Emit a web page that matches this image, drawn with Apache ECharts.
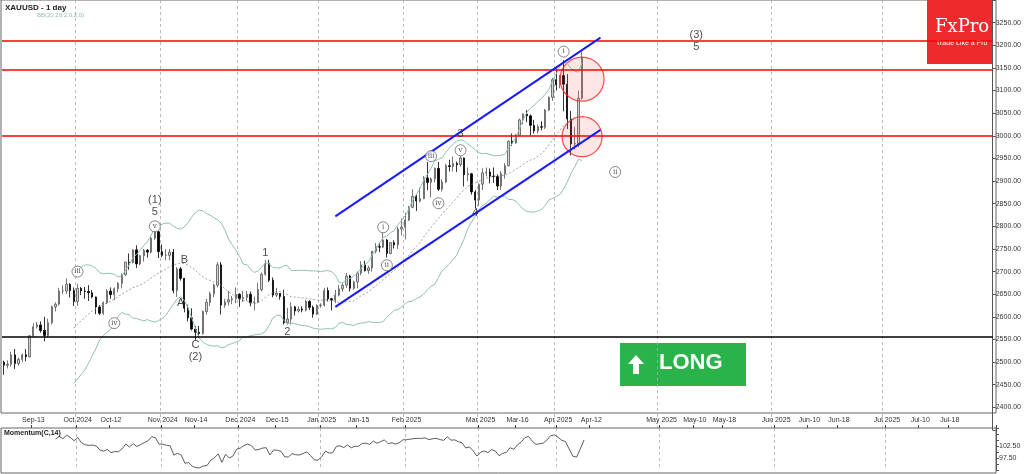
<!DOCTYPE html>
<html><head><meta charset="utf-8">
<script src="https://cdn.jsdelivr.net/npm/echarts@6/dist/echarts.min.js"></script>
<style>html,body{margin:0;padding:0;background:#fff}#c{width:1024px;height:474px}</style>
</head><body><div id="c"></div>
<script>
// [open, close, low, high]
const sep24=[[2500,2493,2472,2503],[2493,2495,2486,2504],[2495,2516,2490,2523],[2516,2497,2485,2529],[2497,2506,2492,2510],[2506,2516,2500,2519],[2516,2512,2502,2529],[2512,2558,2510,2560],[2558,2578,2556,2586],[2578,2582,2574,2589],[2582,2570,2565,2590],[2570,2559,2546,2600],[2559,2587,2555,2596],[2587,2622,2583,2625],[2622,2628,2612,2632],[2628,2657,2625,2664],[2657,2657,2650,2670],[2657,2672,2650,2685],[2672,2658,2643,2674],[2658,2634,2624,2665]];
const oct24=[[2634,2663,2624,2673],[2663,2657,2648,2666],[2657,2656,2640,2666],[2656,2653,2635,2670],[2653,2644,2641,2659],[2644,2622,2606,2645],[2622,2608,2604,2626],[2608,2631,2604,2634],[2631,2657,2628,2661],[2657,2649,2640,2665],[2649,2662,2637,2665],[2662,2674,2654,2677],[2674,2693,2663,2696],[2693,2721,2690,2722],[2721,2720,2704,2740],[2720,2748,2718,2749],[2748,2717,2708,2758],[2717,2735,2714,2737],[2735,2747,2722,2750],[2747,2743,2731,2750],[2743,2774,2740,2775],[2774,2788,2770,2790],[2788,2744,2730,2790]];
const nov24=[[2744,2736,2732,2760],[2736,2736,2725,2750],[2736,2743,2725,2750],[2743,2658,2652,2750],[2658,2706,2644,2710],[2706,2685,2680,2710],[2685,2619,2610,2686],[2619,2598,2590,2627],[2598,2573,2570,2619],[2573,2566,2548,2580],[2566,2563,2555,2580],[2563,2612,2561,2614],[2612,2632,2605,2640],[2632,2651,2624,2656],[2651,2670,2643,2673],[2670,2715,2665,2721],[2715,2626,2605,2721],[2626,2633,2620,2640],[2633,2638,2625,2657],[2638,2640,2628,2646],[2640,2650,2630,2665]];
const dec24=[[2650,2640,2622,2652],[2640,2643,2632,2657],[2643,2650,2636,2657],[2650,2631,2623,2656],[2631,2633,2614,2645],[2633,2660,2630,2675],[2660,2694,2656,2698],[2694,2718,2691,2726],[2718,2681,2677,2726],[2681,2648,2643,2687],[2648,2652,2644,2664],[2652,2645,2638,2652],[2645,2587,2583,2660],[2587,2595,2583,2620],[2595,2622,2583,2632],[2622,2613,2603,2624],[2613,2617,2610,2623],[2617,2615,2610,2623],[2615,2634,2612,2638],[2634,2621,2615,2637],[2621,2606,2598,2625],[2606,2625,2604,2628]];
const jan25=[[2625,2626,2620,2630],[2626,2658,2623,2664],[2658,2640,2634,2665],[2640,2637,2614,2642],[2637,2648,2630,2660],[2648,2662,2645,2670],[2662,2670,2655,2675],[2670,2690,2664,2697],[2690,2663,2656,2693],[2663,2677,2660,2680],[2677,2697,2663,2700],[2697,2715,2692,2723],[2715,2702,2700,2724],[2702,2708,2695,2713],[2708,2745,2700,2746],[2745,2755,2740,2763],[2755,2754,2743,2763],[2754,2770,2752,2786],[2770,2740,2731,2772],[2740,2764,2738,2765],[2764,2759,2751,2769],[2759,2794,2750,2799],[2794,2798,2780,2817]];
const feb25=[[2798,2814,2771,2830],[2814,2842,2812,2845],[2842,2866,2840,2882],[2866,2856,2834,2870],[2856,2861,2853,2886],[2861,2907,2860,2911],[2907,2897,2880,2942],[2897,2905,2864,2908],[2905,2928,2897,2930],[2928,2882,2878,2942],[2882,2898,2877,2904],[2898,2934,2895,2938],[2934,2932,2921,2947],[2932,2939,2921,2954],[2939,2936,2920,2943],[2936,2951,2932,2956],[2951,2914,2888,2952],[2914,2916,2900,2930],[2916,2876,2870,2918],[2876,2858,2840,2880]];
const mar25=[[2858,2893,2845,2895],[2893,2918,2880,2928],[2918,2920,2910,2930],[2920,2911,2895,2928],[2911,2910,2896,2930],[2910,2889,2880,2915],[2889,2916,2880,2922],[2916,2934,2905,2940],[2934,2988,2932,2990],[2988,2984,2978,3005],[2984,3001,2983,3004],[3001,3035,2999,3038],[3035,3048,3025,3050],[3048,3044,3030,3057],[3044,3023,3000,3047],[3023,3011,3005,3035],[3011,3020,3005,3025],[3020,3019,3012,3032],[3019,3057,3015,3059],[3057,3085,3055,3087],[3085,3124,3077,3128]];
const apr25=[[3124,3113,3100,3149],[3113,3133,3105,3135],[3133,3114,3054,3167],[3114,3037,3015,3136],[3037,2982,2957,3055],[2982,2983,2970,3020],[2983,3083,2975,3100],[3083,3173,3080,3185]];
const priceTicks=[2400,2450,2500,2550,2600,2650,2700,2750,2800,2850,2900,2950,3000,3050,3100,3150,3200,3250];
const redLevels=[3210,3146,3000];
const blackLevel=2556;
const tickLabels={'2024-09-13':'Sep-13','2024-10-01':'Oct 2024','2024-10-14':'Oct-12','2024-11-01':'Nov 2024','2024-11-14':'Nov-14','2024-12-02':'Dec 2024','2024-12-16':'Dec-15','2025-01-01':'Jan 2025','2025-01-15':'Jan-15','2025-02-03':'Feb 2025','2025-03-03':'Mar 2025','2025-03-17':'Mar-16','2025-04-01':'Apr 2025','2025-04-12':'Apr-12','2025-05-01':'May 2025','2025-05-10':'May-10','2025-05-18':'May-18','2025-06-01':'Jun 2025','2025-06-10':'Jun-10','2025-06-18':'Jun-18','2025-07-01':'Jul 2025','2025-07-10':'Jul-10','2025-07-18':'Jul-18'};
const monthStarts=['2024-10-01','2024-11-01','2024-12-02','2025-01-01','2025-02-03','2025-03-03','2025-04-01','2025-05-01','2025-06-01','2025-07-01'];
// [date, price, text, circled]
const waveLabels=[['2024-10-30',2845,'(1)\n5',0],['2024-10-30',2800,'v',1],['2024-10-01',2700,'iii',1],['2024-10-15',2586,'iv',1],['2024-11-11',2725,'B',0],['2024-11-08',2630,'A',0],['2024-11-14',2525,'C\n(2)',0],['2024-12-11',2742,'1',0],['2024-12-19',2566,'2',0],['2025-01-24',2798,'i',1],['2025-01-27',2714,'ii',1],['2025-02-12',2955,'iii',1],['2025-02-14',2851,'iv',1],['2025-02-24',2968,'v',1],['2025-02-24',3005,'3',0],['2025-02-28',2830,'4',0],['2025-04-03',3186,'i',1],['2025-04-19',2920,'ii',1],['2025-05-11',3210,'(3)\n5',0]];
const channelUpper=[['2025-01-07',2822],['2025-04-15',3217]];
const channelLower=[['2025-01-07',2622],['2025-04-15',3013]];
const zones=[['2025-04-10',3125,44],['2025-04-10',2998,40]];
const lastPrice=3173.06, lastMom=101.27;

const candles=[].concat(sep24,oct24,nov24,dec24,jan25,feb25,mar25,apr25);
const fmt=d=>d.toISOString().slice(0,10);
const dates=[];
let d=new Date(Date.UTC(2024,8,3));
while(dates.length<candles.length){const w=d.getUTCDay(); if(w!==0&&w!==6)dates.push(fmt(d)); d.setUTCDate(d.getUTCDate()+1);}
const endF=new Date(Date.UTC(2025,6,30));
while(d<=endF){dates.push(fmt(d)); d.setUTCDate(d.getUTCDate()+1);}
const closes=candles.map(c=>c[1]);
const mid=[],up=[],lo=[],mom=[];
closes.forEach((c,i)=>{
  if(i>=19){const s=closes.slice(i-19,i+1);const m=s.reduce((a,b)=>a+b,0)/20;const sd=Math.sqrt(s.reduce((a,b)=>a+(b-m)*(b-m),0)/20);mid.push(m);up.push(m+2*sd);lo.push(m-2*sd);}else{mid.push(null);up.push(null);lo.push(null);}
  mom.push(i>=14?c/closes[i-14]*100:null);
});
const monthSet=new Set(monthStarts);
const chart=echarts.init(document.getElementById('c'));
const xBase={type:'category',data:dates,boundaryGap:true,axisLine:{show:false},axisTick:{show:false},
  splitLine:{show:true,interval:(i,v)=>monthSet.has(v),lineStyle:{color:'#aaa',type:[3,3],width:0.8}}};
chart.setOption({
  animation:false,
  grid:[{left:2,right:28,top:-3,height:433},{left:2,right:28,top:428,height:42}],
  xAxis:[Object.assign({},xBase,{gridIndex:0,axisLabel:{show:false}}),
    Object.assign({},xBase,{gridIndex:1,position:'top',axisTick:{show:true,interval:(i,v)=>!!tickLabels[v],length:3,lineStyle:{color:'#444'},inside:false},
      axisLabel:{show:true,interval:(i,v)=>!!tickLabels[v],formatter:v=>tickLabels[v]||'',fontSize:7,color:'#333',margin:4,fontFamily:'Liberation Sans'}})],
  yAxis:[{type:'value',gridIndex:0,position:'right',min:2350,max:3300,interval:50,scale:true,splitLine:{show:false},
      axisLine:{show:true,lineStyle:{color:'#555'}},axisTick:{show:true,length:3},
      axisLabel:{fontSize:7,color:'#333',margin:3,fontFamily:'Liberation Sans',formatter:v=>(v>=2400&&v<=3250)?v.toFixed(2):''}},
    {type:'value',gridIndex:1,position:'right',min:92.5,max:110,interval:2.5,splitLine:{show:false},
      axisLine:{show:true,lineStyle:{color:'#555'}},axisTick:{show:true,length:3},
      axisLabel:{fontSize:7,color:'#333',margin:3,fontFamily:'Liberation Sans',formatter:v=>(v===97.5||v===102.5)?v.toFixed(2):''}}],
  series:[
    {type:'line',data:up,symbol:'none',lineStyle:{color:'#8fbfb8',width:1},silent:true},
    {type:'line',data:lo,symbol:'none',lineStyle:{color:'#8fbfb8',width:1},silent:true},
    {type:'line',data:mid,symbol:'none',lineStyle:{color:'#888',width:0.8,type:[2,2]},silent:true},
    {type:'candlestick',data:candles,barMaxWidth:3,
      itemStyle:{color:'#d4d4d4',borderColor:'#555',color0:'#000',borderColor0:'#000',borderWidth:0.8},
      markLine:{symbol:'none',silent:true,data:[
        ...redLevels.map(v=>({yAxis:v,lineStyle:{color:'#ff0000',width:1.5,type:'solid'},label:{show:false}})),
        {yAxis:blackLevel,lineStyle:{color:'#000',width:1.5,type:'solid'},label:{show:false}},
        {yAxis:lastPrice,lineStyle:{opacity:0},label:{show:true,position:'end',formatter:lastPrice.toFixed(2),fontSize:7,color:'#333',backgroundColor:'#fff',borderColor:'#777',borderWidth:0.5,padding:[1,1],distance:2}},
        [{coord:channelUpper[0],lineStyle:{color:'#1a1aff',width:2,type:'solid'}},{coord:channelUpper[1]}],
        [{coord:channelLower[0],lineStyle:{color:'#1a1aff',width:2,type:'solid'}},{coord:channelLower[1]}]
      ]}},
    {type:'scatter',data:zones.map(z=>({value:[z[0],z[1]],symbolSize:z[2]})),symbol:'circle',silent:true,
      itemStyle:{color:'rgba(255,80,80,0.18)',borderColor:'#ff2020',borderWidth:1.2}},
    {type:'scatter',data:waveLabels.map(w=>({value:[w[0],w[1]],symbolSize:w[3]?11:0,
      label:{show:true,position:'inside',formatter:w[2],fontSize:w[3]?7:11,fontFamily:w[3]?'DejaVu Serif':'Liberation Sans',color:'#222',lineHeight:w[3]?8:12}})),
      symbol:'circle',itemStyle:{color:'#fff',borderColor:'#444',borderWidth:0.8},silent:true,z:5},
    {type:'line',xAxisIndex:1,yAxisIndex:1,data:mom,symbol:'none',lineStyle:{color:'#333',width:0.8},
      markLine:{symbol:'none',silent:true,data:[{yAxis:lastMom,lineStyle:{opacity:0},label:{show:true,position:'end',formatter:lastMom.toFixed(2),fontSize:7,color:'#333',backgroundColor:'#fff',borderColor:'#777',borderWidth:0.5,padding:[1,1],distance:2}}]}}
  ],
  graphic:[
    {type:'rect',shape:{x:1,y:0,width:995,height:413},style:{fill:'none',stroke:'#666',lineWidth:1},silent:true},
    {type:'rect',shape:{x:1,y:428,width:995,height:45},style:{fill:'none',stroke:'#666',lineWidth:1},silent:true},
    {type:'text',left:5,top:4,style:{text:'XAUUSD - 1 day',font:'bold 8px Liberation Sans',fill:'#222'}},
    {type:'text',left:37,top:12,style:{text:'BB(20,20,2,0,2,0)',font:'6px Liberation Sans',fill:'#8fbfb8'}},
    {type:'text',left:4,top:430,style:{text:'Momentum(C,14)',font:'bold 7px Liberation Sans',fill:'#222'}},
    {type:'rect',shape:{x:927,y:0,width:65,height:64},style:{fill:'#ee2a2e'}},
    {type:'text',left:935,top:18,style:{text:'FxPro',font:'18px DejaVu Serif',fill:'#fff'}},
    {type:'text',left:936,top:40,style:{text:'Trade Like a Pro',font:'7px Liberation Sans',fill:'#fff'}},
    {type:'rect',shape:{x:620,y:343,width:126,height:43},style:{fill:'#2bb34b'}},
    {type:'polygon',shape:{points:[[636,355],[628,364],[633,364],[633,374],[639,374],[639,364],[644,364]]},style:{fill:'#fff'}},
    {type:'text',left:659,top:352,style:{text:'LONG',font:'bold 22px Liberation Sans',fill:'#fff'}}
  ]
});
</script></body></html>
